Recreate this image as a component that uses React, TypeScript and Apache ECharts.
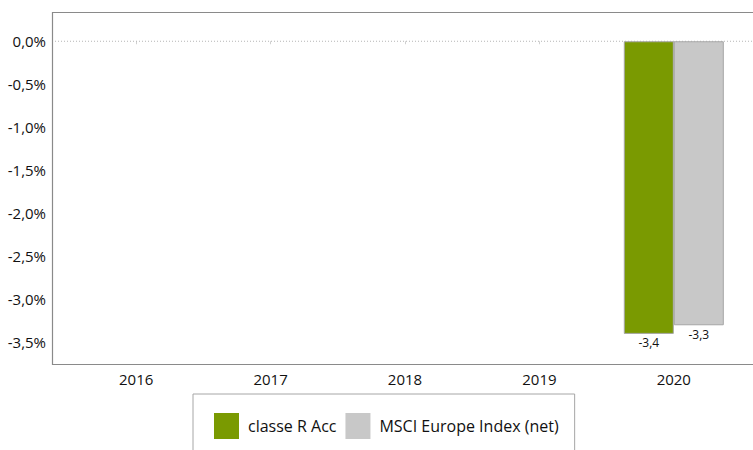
import React, { useEffect, useRef } from "react";
import * as echarts from "echarts";

const categories = ["2016", "2017", "2018", "2019", "2020"];
const seriesNames = ["classe R Acc", "MSCI Europe Index (net)"];
const fundValues: (number | null)[] = [null, null, null, null, -3.4];
const indexValues: (number | null)[] = [null, null, null, null, -3.3];
const zeroLine = [[0, 0], [1, 0]];

const FONT = "Open Sans";
const Y_MIN = -3.75;
const Y_MAX = 0.34;

const fmtComma = (v: number, d: number) => v.toFixed(d).replace(".", ",");

export default function App() {
  const ref = useRef<HTMLDivElement>(null);
  useEffect(() => {
    if (!ref.current) return;
    const chart = echarts.init(ref.current, undefined, { renderer: "svg" });
    chart.setOption({
      animation: false,
      textStyle: { fontFamily: FONT },
      grid: [
        { left: 69, right: 12, top: 12, bottom: 86 },
        { left: 52, right: 0, top: 12, bottom: 86 },
      ],
      xAxis: [
        {
          type: "category",
          gridIndex: 0,
          data: categories,
          axisLine: { show: false },
          axisTick: { show: true, alignWithLabel: true, length: 3, lineStyle: { color: "#d0d0d0" } },
          axisLabel: { color: "#111", fontSize: 15, margin: 7, fontFamily: FONT },
        },
        { type: "value", gridIndex: 1, min: 0, max: 1, show: false },
      ],
      yAxis: [
        {
          type: "value",
          gridIndex: 0,
          min: Y_MIN,
          max: Y_MAX,
          interval: 0.25,
          offset: 17,
          axisLine: { show: false },
          axisTick: { show: false },
          splitLine: { show: false },
          axisLabel: {
            color: "#111",
            fontSize: 15,
            margin: 6,
            fontFamily: FONT,
            formatter: (v: number) =>
              Math.abs(v * 2 - Math.round(v * 2)) < 1e-6 && v <= 0.0001 ? fmtComma(v, 1) + "%" : "",
          },
        },
        { type: "value", gridIndex: 1, min: Y_MIN, max: Y_MAX, show: false },
      ],
      legend: {
        data: seriesNames,
        left: 193,
        top: 394,
        orient: "horizontal",
        padding: [19, 16, 20, 21],
        itemGap: 9,
        itemWidth: 25,
        itemHeight: 26,
        icon: "rect",
        itemStyle: { borderWidth: 0 },
        borderColor: "#a6a6a6",
        borderWidth: 1,
        textStyle: { color: "#111", fontSize: 16, fontFamily: FONT, padding: [0, 0, 0, 4] },
      },
      graphic: [
        {
          type: "rect",
          shape: { x: 52.5, y: 12.5, width: 720, height: 352 },
          style: { fill: "none", stroke: "#8a8a8a", lineWidth: 1.2 },
          silent: true,
          z: 10,
        },
      ],
      series: [
        {
          type: "line",
          xAxisIndex: 1,
          yAxisIndex: 1,
          data: zeroLine,
          symbol: "none",
          silent: true,
          lineStyle: { color: "#b5b5b5", width: 1, type: [1, 2] },
          z: 1,
        },
        {
          name: seriesNames[0],
          type: "bar",
          xAxisIndex: 0,
          yAxisIndex: 0,
          data: fundValues,
          barWidth: 50,
          barGap: "0%",
          itemStyle: { color: "#7a9a01", borderColor: "#a6a6a6", borderWidth: 1 },
          label: {
            show: true,
            position: "bottom",
            distance: 3,
            color: "#111",
            fontSize: 12,
            fontFamily: FONT,
            formatter: (p: any) => fmtComma(p.value, 1),
          },
          z: 3,
        },
        {
          name: seriesNames[1],
          type: "bar",
          xAxisIndex: 0,
          yAxisIndex: 0,
          data: indexValues,
          barWidth: 50,
          barGap: "0%",
          itemStyle: { color: "#c8c8c8", borderColor: "#a6a6a6", borderWidth: 1 },
          label: {
            show: true,
            position: "bottom",
            distance: 3,
            color: "#111",
            fontSize: 12,
            fontFamily: FONT,
            formatter: (p: any) => fmtComma(p.value, 1),
          },
          z: 3,
        },
      ],
    });
    return () => chart.dispose();
  }, []);
  return <div ref={ref} style={{ width: 753, height: 450, position: "absolute", left: 0, top: 0 }} />;
}
